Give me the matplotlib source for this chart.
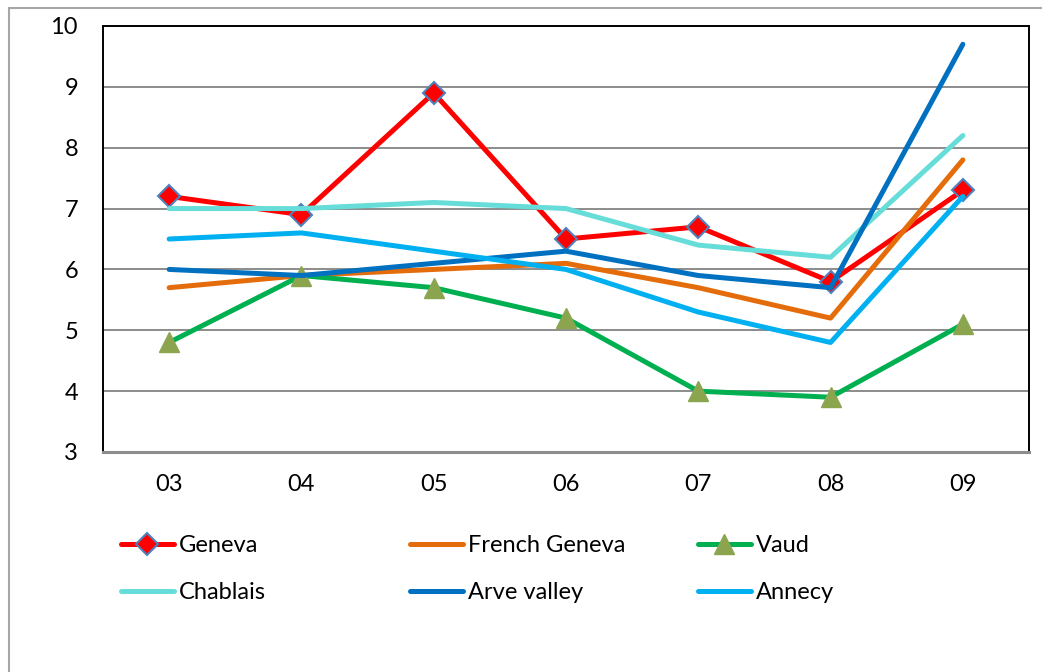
import matplotlib.pyplot as plt
from matplotlib.patches import Rectangle

plt.rcParams['font.family'] = ['Lato', 'DejaVu Sans']

# Yearly values per region
years = ['03', '04', '05', '06', '07', '08', '09']
geneva = [7.2, 6.9, 8.9, 6.5, 6.7, 5.8, 7.3]
french_geneva = [5.7, 5.9, 6.0, 6.1, 5.7, 5.2, 7.8]
vaud = [4.8, 5.9, 5.7, 5.2, 4.0, 3.9, 5.1]
chablais = [7.0, 7.0, 7.1, 7.0, 6.4, 6.2, 8.2]
arve_valley = [6.0, 5.9, 6.1, 6.3, 5.9, 5.7, 9.7]
annecy = [6.5, 6.6, 6.3, 6.0, 5.3, 4.8, 7.2]

fig = plt.figure(figsize=(10.42, 6.72), dpi=100)
ax = fig.add_axes([103 / 1042, 1 - 452 / 672, 926 / 1042, 426 / 672])

x = list(range(len(years)))
lw = 3.6
fs = 17
style = dict(lw=lw, solid_capstyle='round', zorder=3)

h_gen, = ax.plot(x, geneva, color='#FF0000', marker='D', markersize=11,
                 markerfacecolor='#FF0000', markeredgecolor='#4F81BD',
                 markeredgewidth=1.5, label='Geneva', **style)
h_fr, = ax.plot(x, french_geneva, color='#E46C0A', label='French Geneva', **style)
h_vd, = ax.plot(x, vaud, color='#00B050', marker='^', markersize=14,
                markerfacecolor='#8BA54F', markeredgecolor='#8BA54F',
                label='Vaud', **style)
h_ch, = ax.plot(x, chablais, color='#66DDD8', label='Chablais', **style)
h_av, = ax.plot(x, arve_valley, color='#0070C0', label='Arve valley', **style)
h_an, = ax.plot(x, annecy, color='#00B0F0', label='Annecy', **style)

ax.set_xlim(-0.5, len(years) - 0.5)
ax.set_ylim(3, 10)
ax.set_xticks(x)
ax.set_xticklabels(years)
ax.set_yticks(range(3, 11))
ax.tick_params(axis='both', length=0, labelsize=fs, colors='black')
ax.tick_params(axis='y', pad=18)
ax.tick_params(axis='x', pad=16)
ax.yaxis.grid(True, color='#8C8C8C', lw=1.4)
ax.set_axisbelow(True)

for side in ['top', 'right', 'left']:
    ax.spines[side].set_color('black')
    ax.spines[side].set_linewidth(1.4)
ax.spines['bottom'].set_color('#8C8C8C')
ax.spines['bottom'].set_linewidth(2.2)

# legend: three columns of two entries
columns = [(h_gen, h_ch), (h_fr, h_av), (h_vd, h_an)]
col_left = [109, 398, 686]
for handles, left in zip(columns, col_left):
    fig.legend(handles=list(handles), loc='upper left',
               bbox_to_anchor=(left / 1042, 1 - 523 / 672),
               frameon=False, fontsize=fs, handlelength=2.25,
               handletextpad=0.2, labelspacing=1.1, borderpad=0)

# outer chart border
fig.add_artist(Rectangle((9 / 1042, -0.1), 1.1, 1 - 8 / 672 + 0.1,
                         transform=fig.transFigure, fill=False,
                         edgecolor='#A6A6A6', lw=1.5))

plt.savefig('out.png', dpi=100)
